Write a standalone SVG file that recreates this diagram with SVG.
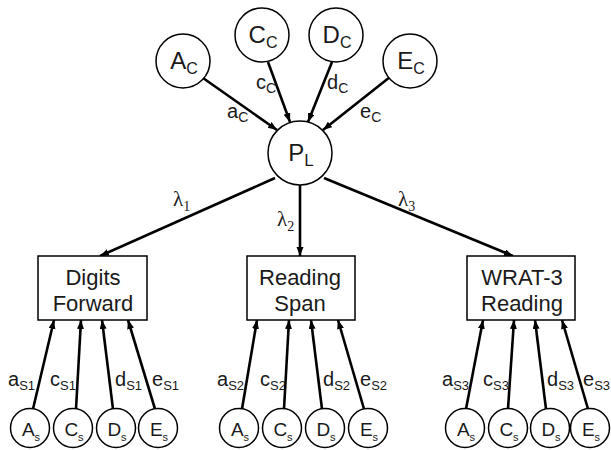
<svg xmlns="http://www.w3.org/2000/svg" width="611" height="450" viewBox="0 0 611 450">
  <defs>
    <marker id="arrow" markerUnits="userSpaceOnUse" markerWidth="10" markerHeight="8" refX="9" refY="3.5" orient="auto">
      <path d="M0,0 L9,3.5 L0,7 z" fill="#000"/>
    </marker>
  </defs>
  <style>
    .node { fill: #fff; stroke: #000; stroke-width: 1.5; }
    .edge { stroke: #000; stroke-width: 2.6; fill: none; marker-end: url(#arrow); }
    .big { font-family: "Liberation Sans", Arial, sans-serif; font-size: 24px; fill: #1a1a1a; text-anchor: middle; }
    .box { font-family: "Liberation Sans", Arial, sans-serif; font-size: 22px; fill: #1a1a1a; text-anchor: middle; }
    .small { font-family: "Liberation Sans", Arial, sans-serif; font-size: 19px; fill: #1a1a1a; text-anchor: middle; }
    .lbl { font-family: "Liberation Sans", Arial, sans-serif; font-size: 20px; fill: #1a1a1a; }
    .greek { font-family: "Liberation Serif", "Times New Roman", serif; font-size: 21px; fill: #1a1a1a; }
  </style>
  <rect width="611" height="450" fill="#fff"/>

  <!-- connectors -->
  <g id="connectors">
    <line class="edge" x1="203" y1="78" x2="277" y2="130"/>
    <line class="edge" x1="268" y1="62" x2="290" y2="122"/>
    <line class="edge" x1="332" y1="62" x2="308" y2="122"/>
    <line class="edge" x1="390" y1="77" x2="323" y2="130"/>

    <line class="edge" x1="275" y1="178" x2="100" y2="256"/>
    <line class="edge" x1="300" y1="185" x2="300" y2="256"/>
    <line class="edge" x1="324" y1="178" x2="513" y2="256"/>

    <line class="edge" x1="33" y1="409" x2="54" y2="320"/>
    <line class="edge" x1="76" y1="409" x2="81" y2="320"/>
    <line class="edge" x1="113" y1="409" x2="102" y2="320"/>
    <line class="edge" x1="155" y1="409" x2="128" y2="320"/>

    <line class="edge" x1="242" y1="409" x2="257" y2="320"/>
    <line class="edge" x1="284" y1="409" x2="289" y2="320"/>
    <line class="edge" x1="322" y1="409" x2="311" y2="320"/>
    <line class="edge" x1="364" y1="409" x2="338" y2="320"/>

    <line class="edge" x1="466" y1="409" x2="483" y2="320"/>
    <line class="edge" x1="508" y1="409" x2="514" y2="320"/>
    <line class="edge" x1="546" y1="409" x2="535" y2="320"/>
    <line class="edge" x1="588" y1="409" x2="562" y2="320"/>
  </g>

  <!-- path labels -->
  <g id="labels">
    <text class="lbl" x="227" y="118">a<tspan font-size="14" dy="4">C</tspan></text>
    <text class="lbl" x="256" y="89">c<tspan font-size="14" dy="4">C</tspan></text>
    <text class="lbl" x="327" y="89">d<tspan font-size="14" dy="4">C</tspan></text>
    <text class="lbl" x="360" y="118">e<tspan font-size="14" dy="4">C</tspan></text>

    <text class="greek" x="173" y="206">λ<tspan font-size="14" dy="5">1</tspan></text>
    <text class="greek" x="277" y="226">λ<tspan font-size="14" dy="5">2</tspan></text>
    <text class="greek" x="398" y="206">λ<tspan font-size="14" dy="5">3</tspan></text>

    <text class="lbl" x="8" y="386">a<tspan font-size="13" dy="4">S1</tspan></text>
    <text class="lbl" x="50" y="386">c<tspan font-size="13" dy="4">S1</tspan></text>
    <text class="lbl" x="115" y="386">d<tspan font-size="13" dy="4">S1</tspan></text>
    <text class="lbl" x="152" y="386">e<tspan font-size="13" dy="4">S1</tspan></text>

    <text class="lbl" x="217" y="386">a<tspan font-size="13" dy="4">S2</tspan></text>
    <text class="lbl" x="260" y="386">c<tspan font-size="13" dy="4">S2</tspan></text>
    <text class="lbl" x="323" y="386">d<tspan font-size="13" dy="4">S2</tspan></text>
    <text class="lbl" x="360" y="386">e<tspan font-size="13" dy="4">S2</tspan></text>

    <text class="lbl" x="442" y="386">a<tspan font-size="13" dy="4">S3</tspan></text>
    <text class="lbl" x="483" y="386">c<tspan font-size="13" dy="4">S3</tspan></text>
    <text class="lbl" x="547" y="386">d<tspan font-size="13" dy="4">S3</tspan></text>
    <text class="lbl" x="583" y="386">e<tspan font-size="13" dy="4">S3</tspan></text>
  </g>

  <!-- common factors -->
  <g id="Ac"><circle class="node" cx="183" cy="61" r="27"/><text class="big" x="184" y="69">A<tspan font-size="16" dy="5">C</tspan></text></g>
  <g id="Cc"><circle class="node" cx="262" cy="35" r="27"/><text class="big" x="263" y="43">C<tspan font-size="16" dy="5">C</tspan></text></g>
  <g id="Dc"><circle class="node" cx="336" cy="35" r="27"/><text class="big" x="337" y="43">D<tspan font-size="16" dy="5">C</tspan></text></g>
  <g id="Ec"><circle class="node" cx="410" cy="61" r="27"/><text class="big" x="411" y="69">E<tspan font-size="16" dy="5">C</tspan></text></g>

  <g id="PL"><circle class="node" cx="300" cy="153" r="32"/><text class="big" x="301" y="161">P<tspan font-size="17" dy="5">L</tspan></text></g>

  <!-- measures -->
  <g id="digits"><rect class="node" x="38" y="256" width="109" height="64"/><text class="box" x="93" y="285">Digits</text><text class="box" x="93" y="311">Forward</text></g>
  <g id="reading-span"><rect class="node" x="247" y="256" width="108" height="64"/><text class="box" x="300" y="285">Reading</text><text class="box" x="300" y="311">Span</text></g>
  <g id="wrat"><rect class="node" x="467" y="256" width="108" height="64"/><text class="box" x="522" y="285">WRAT-3</text><text class="box" x="522" y="311">Reading</text></g>

  <!-- specific factors -->
  <g id="As1"><circle class="node" cx="30" cy="428" r="19.5"/><text class="small" x="31" y="436">A<tspan font-size="11" dy="5">s</tspan></text></g>
  <g id="Cs1"><circle class="node" cx="73" cy="428" r="19.5"/><text class="small" x="74" y="436">C<tspan font-size="11" dy="5">s</tspan></text></g>
  <g id="Ds1"><circle class="node" cx="116" cy="428" r="19.5"/><text class="small" x="117" y="436">D<tspan font-size="11" dy="5">s</tspan></text></g>
  <g id="Es1"><circle class="node" cx="158" cy="428" r="19.5"/><text class="small" x="159" y="436">E<tspan font-size="11" dy="5">s</tspan></text></g>

  <g id="As2"><circle class="node" cx="239" cy="428" r="19.5"/><text class="small" x="240" y="436">A<tspan font-size="11" dy="5">s</tspan></text></g>
  <g id="Cs2"><circle class="node" cx="282" cy="428" r="19.5"/><text class="small" x="283" y="436">C<tspan font-size="11" dy="5">s</tspan></text></g>
  <g id="Ds2"><circle class="node" cx="325" cy="428" r="19.5"/><text class="small" x="326" y="436">D<tspan font-size="11" dy="5">s</tspan></text></g>
  <g id="Es2"><circle class="node" cx="368" cy="428" r="19.5"/><text class="small" x="369" y="436">E<tspan font-size="11" dy="5">s</tspan></text></g>

  <g id="As3"><circle class="node" cx="465" cy="428" r="19.5"/><text class="small" x="466" y="436">A<tspan font-size="11" dy="5">s</tspan></text></g>
  <g id="Cs3"><circle class="node" cx="508" cy="428" r="19.5"/><text class="small" x="509" y="436">C<tspan font-size="11" dy="5">s</tspan></text></g>
  <g id="Ds3"><circle class="node" cx="550" cy="428" r="19.5"/><text class="small" x="551" y="436">D<tspan font-size="11" dy="5">s</tspan></text></g>
  <g id="Es3"><circle class="node" cx="590" cy="428" r="19.5"/><text class="small" x="591" y="436">E<tspan font-size="11" dy="5">s</tspan></text></g>
</svg>
